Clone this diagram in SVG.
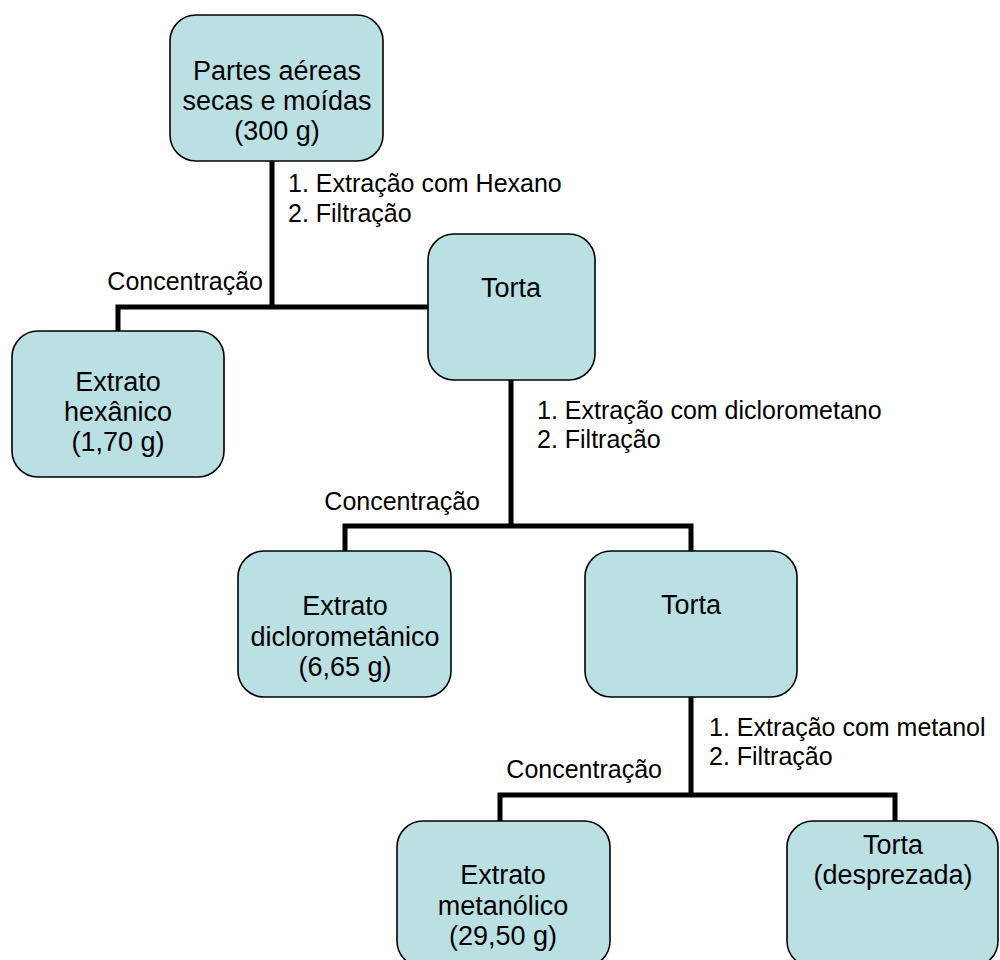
<svg xmlns="http://www.w3.org/2000/svg" width="1000" height="960" viewBox="0 0 1000 960">
  <style>
    .box { fill: #bbe0e3; stroke: #000; stroke-width: 1.6; }
    .node { font-family: "Liberation Sans", Arial, sans-serif; font-size: 27px; fill: #000; text-anchor: middle; }
    .lbl { font-family: "Liberation Sans", Arial, sans-serif; font-size: 25px; fill: #000; }
    .end { text-anchor: end; }
    .wire { fill: none; stroke: #000; stroke-width: 5; stroke-linejoin: miter; stroke-linecap: butt; }
  </style>
  <rect width="1000" height="960" fill="#fff"/>

  <!-- connectors -->
  <g id="connectors">
    <polyline class="wire" points="272,161 272,307"/>
    <polyline class="wire" points="118,333 118,307 430,307"/>
    <polyline class="wire" points="511,380 511,526"/>
    <polyline class="wire" points="345,553 345,526 691,526 691,553"/>
    <polyline class="wire" points="691,697 691,795"/>
    <polyline class="wire" points="500,823 500,795 895,795 895,823"/>
  </g>

  <!-- step labels -->
  <g id="labels" class="lbl">
    <text x="288" y="192">1. Extração com Hexano</text>
    <text x="288" y="222">2. Filtração</text>
    <text x="263" y="290" class="end">Concentração</text>
    <text x="537" y="419">1. Extração com diclorometano</text>
    <text x="537" y="448">2. Filtração</text>
    <text x="480" y="510" class="end">Concentração</text>
    <text x="709" y="736">1. Extração com metanol</text>
    <text x="709" y="765">2. Filtração</text>
    <text x="662" y="778" class="end">Concentração</text>
  </g>

  <g id="partes-aereas">
    <rect class="box" x="170" y="15" width="213" height="146" rx="26"/>
    <text class="node" x="277" y="80">Partes aéreas</text>
    <text class="node" x="277" y="110">secas e moídas</text>
    <text class="node" x="277" y="140">(300 g)</text>
  </g>

  <g id="extrato-hexanico">
    <rect class="box" x="12" y="331" width="212" height="146" rx="26"/>
    <text class="node" x="118" y="391">Extrato</text>
    <text class="node" x="118" y="421">hexânico</text>
    <text class="node" x="118" y="451">(1,70 g)</text>
  </g>

  <g id="torta-1">
    <rect class="box" x="428" y="234" width="167" height="146" rx="26"/>
    <text class="node" x="511" y="297">Torta</text>
  </g>

  <g id="extrato-diclorometanico">
    <rect class="box" x="238" y="551" width="213" height="146" rx="26"/>
    <text class="node" x="345" y="615">Extrato</text>
    <text class="node" x="345" y="646">diclorometânico</text>
    <text class="node" x="345" y="676">(6,65 g)</text>
  </g>

  <g id="torta-2">
    <rect class="box" x="585" y="551" width="212" height="146" rx="26"/>
    <text class="node" x="691" y="614">Torta</text>
  </g>

  <g id="extrato-metanolico">
    <rect class="box" x="397" y="821" width="213" height="146" rx="26"/>
    <text class="node" x="503" y="884">Extrato</text>
    <text class="node" x="503" y="915">metanólico</text>
    <text class="node" x="503" y="945">(29,50 g)</text>
  </g>

  <g id="torta-desprezada">
    <rect class="box" x="787" y="821" width="211" height="146" rx="26"/>
    <text class="node" x="893" y="854">Torta</text>
    <text class="node" x="893" y="884">(desprezada)</text>
  </g>
</svg>
